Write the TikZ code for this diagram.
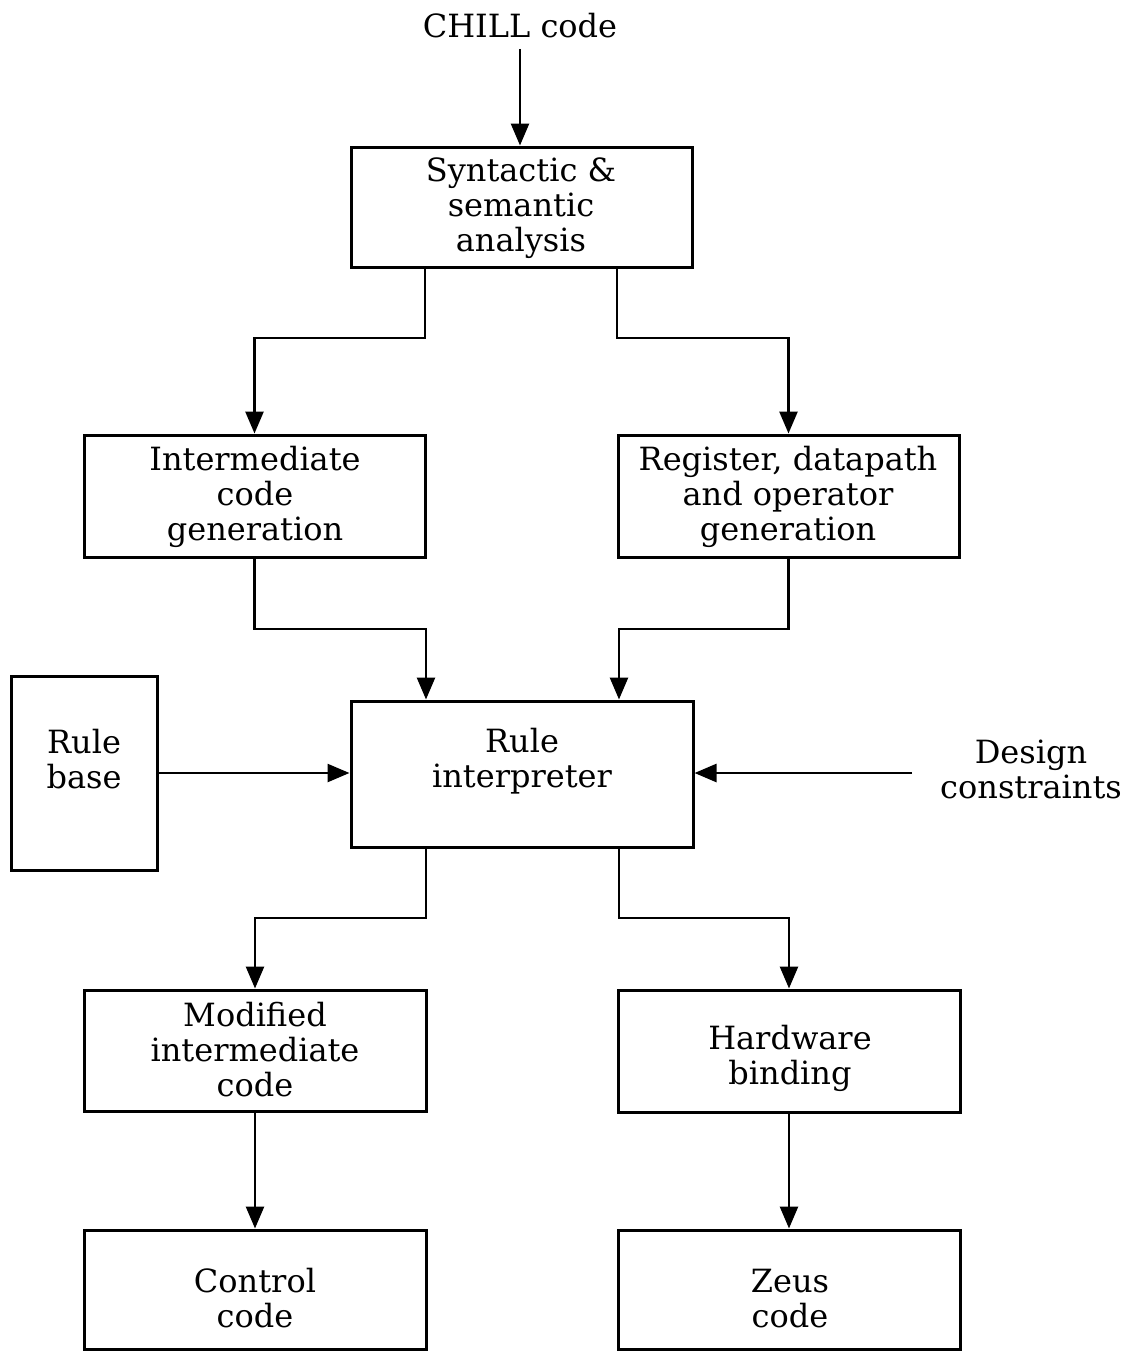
\documentclass[tikz,border=0pt]{standalone}
\usepackage{fontspec}
\setmainfont{DejaVu Serif}
\usetikzlibrary{arrows.meta}
\begin{document}
\begin{tikzpicture}[x=0.5pt,y=-0.5pt,
  box/.style={draw,line width=1.5pt,rectangle,inner sep=0pt},
  lbl/.style={align=center,inner sep=1pt,font=\fontsize{16}{17.5}\selectfont},
  arr/.style={line width=1.3pt,-{Triangle[length=11pt,width=9pt]}}]
\useasboundingbox (0,0) rectangle (1129,1351);

% boxes
\node[box,minimum width=170.5pt,minimum height=60pt] (syn) at (521.5,207) {};
\node[box,minimum width=170.5pt,minimum height=61pt] (inter) at (254.5,496) {};
\node[box,minimum width=170.5pt,minimum height=61pt] (reg) at (788.5,496) {};
\node[box,minimum width=171pt,minimum height=73pt] (ri) at (522,774) {};
\node[box,minimum width=73pt,minimum height=97pt] (rb) at (84,773) {};
\node[box,minimum width=171pt,minimum height=60.5pt] (mod) at (255,1050.5) {};
\node[box,minimum width=171pt,minimum height=61pt] (hw) at (789,1051) {};
\node[box,minimum width=171pt,minimum height=59.5pt] (ctrl) at (255,1289.5) {};
\node[box,minimum width=171pt,minimum height=59.5pt] (zeus) at (789,1289.5) {};

% labels
\node[lbl] (chill) at (520,26) {CHILL code};
\node[lbl] (syntxt) at (521,208) {Syntactic \&\\semantic\\analysis};
\node[lbl] (intertxt) at (255,497) {Intermediate\\code\\generation};
\node[lbl] (regtxt) at (788,497) {Register, datapath\\and operator\\generation};
\node[lbl] (ritxt) at (522,761) {Rule\\interpreter};
\node[lbl] (rbtxt) at (84,759) {Rule\\base};
\node[lbl] (dc) at (1031,769) {Design\\constraints};
\node[lbl] (modtxt) at (255,1050) {Modified\\intermediate\\code};
\node[lbl] (hwtxt) at (790,1058) {Hardware\\binding};
\node[lbl] (ctrltxt) at (255,1298) {Control\\code};
\node[lbl] (zeustxt) at (790,1299) {Zeus\\code};

% routing points
\coordinate (a1) at (425,338);
\coordinate (a2) at (617,338);
\coordinate (b1) at (426,629);
\coordinate (b2) at (619,629);
\coordinate (c1) at (426,918);
\coordinate (c2) at (619,918);
\coordinate (dcin) at (912,773);

% connectors
\draw[arr,shorten <=4pt] (chill.south) -- (chill.south |- syn.north);
\draw[arr] (a1 |- syn.south) -- (a1) -| (inter.north);
\draw[arr] (a2 |- syn.south) -- (a2) -| (reg.north);
\draw[arr] (inter.south) |- (b1) -- (b1 |- ri.north);
\draw[arr] (reg.south) |- (b2) -- (b2 |- ri.north);
\draw[arr] (rb.east) -- (rb.east -| ri.west);
\draw[arr] (dcin) -- (dcin -| ri.east);
\draw[arr] (c1 |- ri.south) -- (c1) -| (mod.north);
\draw[arr] (c2 |- ri.south) -- (c2) -| (hw.north);
\draw[arr] (mod.south) -- (ctrl.north);
\draw[arr] (hw.south) -- (zeus.north);
\end{tikzpicture}
\end{document}
